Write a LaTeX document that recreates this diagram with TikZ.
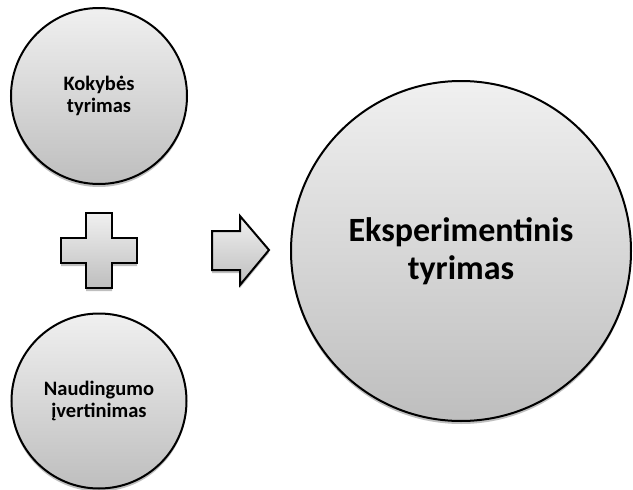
\documentclass[tikz,border=0pt]{standalone}
\usepackage{fontspec}
\setmainfont{Carlito}
\usetikzlibrary{shadows}
\definecolor{shadeTop}{HTML}{F0F0F0}
\definecolor{shadeBot}{HTML}{BEBEBE}
\tikzset{
  grayfill/.style={top color=shadeTop, bottom color=shadeBot, draw=black, line width=2pt,
    drop shadow={shadow xshift=0pt, shadow yshift=-3pt, opacity=0.25, fill=black}},
  bubble/.style={grayfill, circle, inner sep=0pt, align=center, font=\bfseries},
  smalltext/.style={font=\bfseries\fontsize{20.5}{22}\selectfont},
  bigtext/.style={font=\bfseries\fontsize{34}{38}\selectfont},
}
\begin{document}
\begin{tikzpicture}[x=1pt,y=-1pt]
  \useasboundingbox (0,0) rectangle (633,490);
  % left column: two input circles
  \node[bubble, smalltext, minimum size=176pt] (quality) at (99,96) {Kokybės\\tyrimas};
  \node[bubble, smalltext, minimum size=175pt] (benefit) at (99,401) {Naudingumo\\įvertinimas};
  % result circle
  \node[bubble, bigtext, minimum size=340pt] (experiment) at (461,251) {Eksperimentinis\\tyrimas};
  % plus sign
  \draw[grayfill] (86,213) -- (112,213) -- (112,238) -- (137,238) -- (137,263) -- (112,263)
    -- (112,288) -- (86,288) -- (86,263) -- (61,263) -- (61,238) -- (86,238) -- cycle;
  % block arrow
  \draw[grayfill] (212,231) -- (240,231) -- (240,216) -- (269,250) -- (240,285)
    -- (240,270) -- (212,270) -- cycle;
\end{tikzpicture}
\end{document}
